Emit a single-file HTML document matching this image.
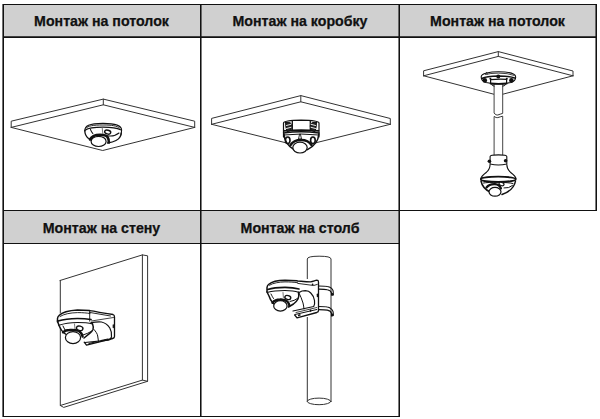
<!DOCTYPE html>
<html><head><meta charset="utf-8">
<style>
html,body{margin:0;padding:0;background:#fff;width:600px;height:419px;overflow:hidden}
svg{position:absolute;left:0;top:0}
.h{font-family:"Liberation Sans",sans-serif;font-weight:bold;font-size:14.2px;fill:#111;stroke:#111;stroke-width:0.25px}
.ln{stroke:#333;stroke-width:1;fill:none;stroke-linejoin:round;stroke-linecap:round}
.bk{stroke:#111;fill:none;stroke-linejoin:round;stroke-linecap:round}
</style></head><body>
<svg width="600" height="419" viewBox="0 0 600 419">
<!-- header fills -->
<rect x="3" y="4" width="593" height="33" fill="#d0d0d0"/>
<rect x="3" y="210" width="396" height="33" fill="#d0d0d0"/>
<!-- grid lines -->
<g fill="#111">
<rect x="3" y="4" width="594" height="1"/>
<rect x="3" y="36" width="594" height="1" fill-opacity=".75"/>
<rect x="3" y="37" width="594" height="1"/>
<rect x="3" y="210" width="594" height="1"/>
<rect x="3" y="243" width="397" height="1"/>
<rect x="3" y="416" width="397" height="1"/>
<rect x="2" y="4" width="1" height="413" fill-opacity=".6"/>
<rect x="3" y="4" width="1" height="413"/>
<rect x="200" y="4" width="1" height="413"/>
<rect x="201" y="4" width="1" height="413" fill-opacity=".55"/>
<rect x="398" y="4" width="1" height="413" fill-opacity=".55"/>
<rect x="399" y="4" width="1" height="413"/>
<rect x="595" y="4" width="1" height="207" fill-opacity=".55"/>
<rect x="596" y="4" width="1" height="207"/>
</g>
<text class="h" x="101.5" y="26" text-anchor="middle">Монтаж на потолок</text>
<text class="h" x="300" y="26" text-anchor="middle">Монтаж на коробку</text>
<text class="h" x="497.5" y="26" text-anchor="middle">Монтаж на потолок</text>
<text class="h" x="101.5" y="233" text-anchor="middle">Монтаж на стену</text>
<text class="h" x="300" y="233" text-anchor="middle">Монтаж на столб</text>

<!-- panel 1 slab -->
<path class="ln" d="M11.2 127.4V121.2L103.3 99.1L194.7 121.2V127.4M11.2 127.4L103.3 104.8L194.7 127.4M103.3 99.1V104.8M11.2 127.4L102.7 150.5L194.7 127.4"/>
<!-- panel 2 slab -->
<path class="ln" d="M211.6 124.3V118.4L300.8 95.6L390.3 118.5V124.3M211.6 124.3L300.8 101.8L390.3 124.3M300.8 95.6V101.8M211.6 124.3L300.8 146.5L390.3 124.3"/>
<!-- panel 3 slab -->
<path class="ln" d="M423.6 75.8V70.8L498.3 51.6L573 71V75.8M423.6 75.8L498.3 56.4L573 75.8M498.3 51.6V56.4M423.6 75.8L498.3 95.4L573 75.8"/>
<!-- wall -->
<path class="ln" d="M60 280.5L142.4 254.9L147.6 255.8V381.3L63.7 407.4L60.3 405.5V280.5M142.4 254.9V380.1L60.3 405.5M142.4 380.1L147.6 381.3"/>
<!-- pole -->
<path class="ln" d="M307.3 401.4V259Q307.3 256.2 319.1 256.2Q331 256.2 331 259V401.4"/>
<ellipse class="ln" cx="319.1" cy="401.4" rx="11.8" ry="3.3"/>

<!-- camera 1 -->
<g class="bk">
<path d="M84.8 131C84.6 126 89 123.5 103 123.4C116 123.5 121.6 125.5 121.6 130C121.6 131 121.3 133 121 135" stroke-width="1.1"/>
<path d="M86 128.2C88 125.8 93 125 103 125C112 125 117 125.8 119.5 128" stroke-width="0.9"/>
<path d="M85.5 130C88 128 93 127.1 103 127.1C112 127.1 117 127.8 120.5 129.8" stroke-width="1.3"/>
<path d="M84.8 130.5C84.8 134 86 136.5 88.5 138.5L91.5 140" stroke-width="1.3"/>
<path d="M121.2 133C121 136 119 139 116 140.5C113 142 110.5 142.5 107.5 143" stroke-width="1.3"/>
<path d="M90.4 129.4C91 131 91.8 132.2 92.8 133.5" stroke-width="1.1"/>
<path d="M102.2 127.8L102.8 133.4" stroke-width="0.9" stroke="#666"/>
<path d="M107.5 135.7C111 136.3 116 135.5 119 133" stroke-width="1.1"/>
<path d="M90 139.5C92 136 96 134.8 100 134.8C104 134.8 106.5 135.5 107.5 137C108.5 138.5 109 140.5 108.8 142.5" stroke-width="2.6"/>
<ellipse cx="107.7" cy="132.1" rx="3.1" ry="1.9" transform="rotate(15 107.7 132.1)" stroke-width="1.4" fill="#fff"/>
</g>
<ellipse cx="98.6" cy="141.4" rx="7.5" ry="5.1" fill="#fff" stroke="#111" stroke-width="1.2"/>

<!-- camera 2 -->
<path d="M283.5 121H319V134C318.5 140 315.5 145.5 307.5 149.6L300 153L294 149.6C287 145.5 284.3 140 284 134Z" fill="#fff"/>
<g class="bk">
<path d="M283.5 137V123Q284 120.5 301 120.2Q318.5 120.5 319 123V137" fill="#fff" stroke-width="1.2"/>
<path d="M292.3 121V130.5M310.3 121V130.5" stroke-width="1.3"/>
<path d="M284 130.8Q301 129.3 318.5 130.8" stroke-width="1.7"/>
<path d="M285.5 122.5Q292 121.5 292 126Q292 131.5 287 131.5Q285.5 127 285.5 122.5Z" fill="#222" stroke-width="1"/>
<path d="M316.5 122.5Q310.3 121.5 310.3 126Q310.3 131.5 315 131.5Q316.5 127 316.5 122.5Z" fill="#222" stroke-width="1"/>
<path d="M286.5 125.5L291 124.3M286.5 128.5L291 127.3M315.5 125.5L311 124.3M315.5 128.5L311 127.3" stroke="#fff" stroke-width="0.9"/>
<path d="M283.5 133Q301 130.5 319 133" stroke-width="1.3"/>
<path d="M283.8 135Q301 133 318.8 135" stroke-width="1"/>
<path d="M284 134C284.3 140 287 145.5 294 149.6M318.8 134C318.5 140 315.5 145.5 307.5 149.6" stroke-width="1.5"/>
<ellipse cx="287.7" cy="140.3" rx="2.3" ry="3.3" stroke-width="1.6"/>
<ellipse cx="312.9" cy="140.3" rx="2.3" ry="3.3" stroke-width="1.6"/>
<path d="M299.5 134.5L298.5 139H301.5L300.5 134.5Z" stroke-width="0.9"/>
<path d="M290.5 145C293 141 297 140 301 140C305 140 309 141 311.5 145" stroke-width="2.4"/>
</g>
<ellipse cx="300" cy="147.6" rx="7.2" ry="5.4" fill="#fff" stroke="#111" stroke-width="1.2"/>

<!-- panel 3: mount, pole, camera -->
<rect x="494" y="84" width="8.7" height="72" fill="#fff"/>
<path d="M494.1 84V113.1M502.7 84V113.3M494.1 116.5V155.5M502.7 116.2V155.5" stroke="#444" stroke-width="1" fill="none"/>
<path d="M494.1 113.2C495.5 114.5 496.5 115.2 497.8 115C499.3 114.7 501 113.6 502.7 113.4M494.1 116.4C495.5 117.4 496.5 117.8 497.8 117.6C499.3 117.3 501 116.4 502.7 116.2" stroke="#333" stroke-width="1" fill="none"/>
<g class="bk">
<path d="M481.2 77C481 73.5 490 71.8 498.5 71.8C507 71.8 515.5 73 515.7 77C515.7 79.5 514 81.5 511 82.5L506.5 83.2H490.6L486 82.5C482.5 81.5 481.2 79.5 481.2 77Z" fill="#fff" stroke-width="1.1"/>
<path d="M485.5 74.5Q490 73.2 498.5 73.1Q508 73.1 513.8 75.3" stroke-width="0.8"/>
<path d="M482.5 78.3Q486 76.3 498.5 76Q510 76 514.5 78" stroke-width="1.6"/>
<path d="M486.5 72.3L487.3 74" stroke-width="0.8"/>
<path d="M490.6 79.7V83.4Q498.5 84.2 506.6 83.4V79.4Q498.5 78.9 490.6 79.7Z" fill="#fff" stroke-width="1.2"/>
<path d="M490.6 83.5Q498.5 84.3 506.6 83.5" stroke-width="1.8"/>
<path d="M491.5 84Q491.8 86 494 86.2M505.7 84Q505.4 86 503 86.2" stroke-width="1"/>
</g>
<circle cx="484.8" cy="80.4" r="2.3" fill="#111"/>
<circle cx="511.4" cy="80.4" r="2.3" fill="#111"/>
<circle cx="498.3" cy="76.6" r="2" fill="#111"/>
<circle cx="490.4" cy="78.8" r="1" fill="#111"/>
<circle cx="506.8" cy="78.8" r="1" fill="#111"/>
<g class="bk">
<path d="M490.1 156.5A8.35 1.6 0 0 1 506.8 156.5V164Q498.4 166 490.1 164Z" fill="#fff" stroke-width="1.1"/>
<path d="M490.1 164.5C490 167.5 489 170 486.5 172.2C484 174.2 481.5 176 480.8 178.5M506.8 164.5C506.9 167.5 507.9 170 510.4 172.2C512.9 174.2 515.4 176 516 178.5" stroke-width="1.1"/>
<ellipse cx="498.3" cy="179.3" rx="17.5" ry="2.6" fill="#fff" stroke-width="1.8"/>
<path d="M481 181C482 186 486 190 490 192M515.5 181C514.5 187 509 192 502 194.5" stroke-width="1.5"/>
<path d="M483.5 183C488 182 508 182 513 183.5" stroke-width="1"/>
<path d="M486.5 187.5C488.5 185 492 184 495 184.2C498 184.5 500 186 501 188.5" stroke-width="2.2"/>
<path d="M504 188Q509 188.5 512.5 185.5" stroke-width="1"/>
<ellipse cx="501.5" cy="184" rx="2.6" ry="1.6" transform="rotate(18 501.5 184)" fill="#fff" stroke-width="1.2"/>
</g>
<circle cx="489.4" cy="161.3" r="1.8" fill="#111"/>
<circle cx="505.6" cy="160.8" r="1.8" fill="#111"/>
<ellipse cx="495" cy="191.8" rx="6" ry="4.4" fill="#fff" stroke="#111" stroke-width="1.2"/>

<!-- wall camera -->
<path d="M58 314.5L64 311.5L77.5 310L89.5 310.7L113.5 314.5L114.5 316V337L112.7 338.5L86.5 345.2L84.2 342.2L80 344L66 337L62 332L59 325L57.2 320.5Z" fill="#fff"/>
<g class="bk">
<path d="M89.5 310.7C96 311.5 102 313 107.5 313.7L113 314.5Q114.5 315 114.5 317V336.5Q114.5 338 112.7 338.5L86.5 345.2L84.2 342.2" stroke-width="1.3"/>
<path d="M89.5 312.4L110.5 316" stroke-width="0.9"/>
<path d="M89.7 311V321.2" stroke-width="0.9"/>
<path d="M91 322.7C95 322 99 321.8 101.5 322C105 322.8 108 325 109.8 328C111.5 331 112 334 111.5 337C111 339 110 339.7 108 340.2L85 342.5" stroke-width="1.2"/>
<path d="M94 329.5C95.8 331.5 97.5 334 97.7 336C98 338 98.3 340 98.5 341.8" stroke-width="1"/>
<path d="M91.5 321L113.5 317.5" stroke-width="0.8"/>
<path d="M113.3 325V327.5" stroke-width="1.3"/>
<path d="M89 343.5L96 341.8M101 340.5L108 339" stroke-width="1.1"/>
</g>
<g class="bk">
<path d="M57.5 322V318.5Q57.8 316.5 59 315.5C62 312.5 68 310.5 77.5 310L89.5 310.6" stroke-width="1.5"/>
<path d="M60 316.5C64 314 70 312.8 77.5 312.6C83 312.6 87 313 90 313.5" stroke-width="0.9"/>
<path d="M58 321C63 319.5 69 318.6 77.5 318.5C84 318.5 88 319 91 319.5" stroke-width="1.7"/>
<path d="M59 325.3C64 323.5 70 322.6 77.5 322.5C84 322.5 89 323 92.5 323.8" stroke-width="1.2"/>
<path d="M57.5 321L59 325.5C60 328 61.5 331 64 333L67 335" stroke-width="1.5"/>
<path d="M63 326L65 330" stroke-width="1"/>
<path d="M74.5 324L75 329" stroke-width="0.8" stroke="#555"/>
<path d="M92.5 323.8C93.3 326 93.5 328 93 329.5C92 331.5 91 332.5 90 333.2L84 338" stroke-width="1.5"/>
<path d="M83 335Q88 333.5 92 331" stroke-width="1"/>
<path d="M63 332.2C65 330.6 67 330 69.5 330C74 329.8 77 330.2 79 331C81 332.5 82.3 334 82.6 336.5" stroke-width="2.4"/>
<ellipse cx="79.7" cy="328.3" rx="3.3" ry="2.2" transform="rotate(15 79.7 328.3)" fill="#fff" stroke-width="1.4"/>
</g>
<ellipse cx="73" cy="337.6" rx="7.6" ry="6" fill="#fff" stroke="#111" stroke-width="1.2"/>

<!-- pole camera -->
<path d="M306 279H318.6V317H306Z" fill="#fff"/>
<g class="bk">
<path d="M318.7 286Q325 286 327.3 286.5C330 287 332 288 333 290.5C333.5 292 333.3 293.5 333.1 295M318.7 289.1Q325 289.2 327.3 289.7C329.5 290 331 291 331.5 292.8V295" stroke-width="1.1"/>
<path d="M318.7 306.5Q325 306.5 327.3 307C330 307.5 332 309 333 311.5C333.5 313 333.3 314 333.1 315.5M318.7 309.6Q325 309.7 327.3 310.1C329.5 310.5 331 311.5 331.5 313.3V316" stroke-width="1.1"/>
</g>
<circle cx="332.4" cy="294.4" r="1.4" fill="#111"/>
<circle cx="332.4" cy="315" r="1.4" fill="#111"/>
<path d="M295 281L316.8 280.2L318.5 282V311L316.8 312.2L297 317.8L294.5 315L292 310Z" fill="#fff"/>
<g class="bk">
<path d="M295.5 280.8C300 281 305 281.8 310.5 281.8C313 281.5 315 280.5 316.8 280.2Q318.5 280.2 318.5 282V310.5Q318.5 312 316.8 312.5L297 317.8L294.7 315" stroke-width="1.3"/>
<path d="M297 283.3L313.7 285.5L317.3 284.4" stroke-width="0.9"/>
<path d="M295.5 281V292.5" stroke-width="0.9"/>
<path d="M299.5 292.3C301 291.2 303 290.7 305.3 290.7C307.5 290.8 309.5 291.5 310.8 293C312.8 295 314 297.5 314.5 300.5C314.9 303 314.5 305 313.7 306.5L293 311" stroke-width="1.2"/>
<path d="M299 293C300.5 296 302 299.5 303 303C303.5 305 303.8 307 304 309" stroke-width="1"/>
<path d="M295 314.5L316.8 309.5" stroke-width="1"/>
<path d="M296 312.5L316.8 307.5" stroke-width="0.8"/>
<path d="M317.4 294.2V296.5" stroke-width="1.3"/>
</g>
<circle cx="312.6" cy="284.4" r="0.9" fill="#111"/>
<path d="M298 315.5L300.5 314.8M310.5 309.6V311.8" stroke="#111" stroke-width="1.5"/>
<path d="M267 286.5L273 282L285 280.2L297 280.8L298 288L297 293C297 297 295 301 292 303.5L287 310L280 310.8L273.5 304L269 297L267 292Z" fill="#fff"/>
<g class="bk">
<path d="M267 292V287.5Q267.3 285.5 268.5 284.5C272 281.5 278 280.2 285 280.2L297 280.8" stroke-width="1.5"/>
<path d="M269.5 285.2C273 283 279 282 285 281.9C290 281.9 294 282.2 297.5 282.7" stroke-width="0.9"/>
<path d="M267.7 289.5C272 288 278 287.3 285 287.3C291 287.3 295 287.8 299 289" stroke-width="1.7"/>
<path d="M268 292.3C272 291 278 290.5 285 290.5C291 290.5 295 291 298.5 292.3" stroke-width="1.2"/>
<path d="M267 292L269 296C270 299 271 301 272.5 302.5C273.5 303.5 274 304 274.5 304.5" stroke-width="1.5"/>
<path d="M271 294C272 296 272.8 297.5 273.5 298.5" stroke-width="1"/>
<path d="M283 292.5L283.4 297.5" stroke-width="0.8" stroke="#555"/>
<path d="M298.5 292.3C299 294.5 298.8 297 298 299C297 301 295.5 302.5 293.5 304L288.5 307" stroke-width="1.5"/>
<path d="M290 301.5Q294.5 300.8 297.5 298.5" stroke-width="1"/>
<path d="M272.5 302.8C274.5 300.3 277 299.5 280 299.5C283.5 299.3 286 300.2 287.5 301.7C288.7 303 289.2 304 289.4 305.5" stroke-width="2.4"/>
<ellipse cx="287.8" cy="297.5" rx="3" ry="2" transform="rotate(15 287.8 297.5)" fill="#fff" stroke-width="1.4"/>
</g>
<ellipse cx="280.4" cy="305.9" rx="6.7" ry="5.2" fill="#fff" stroke="#111" stroke-width="1.2"/>
</svg>
</body></html>
